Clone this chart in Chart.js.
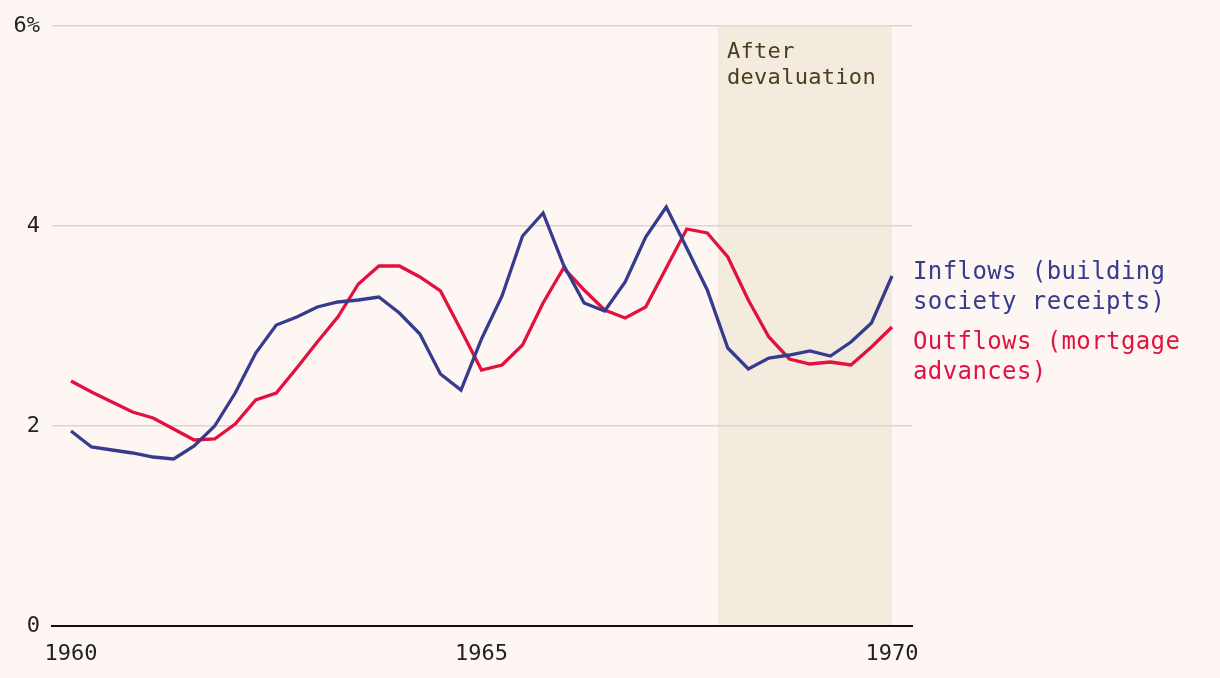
<!DOCTYPE html>
<html>
<head>
<meta charset="utf-8">
<script src="https://cdn.jsdelivr.net/npm/chart.js@4"></script>
<style>
  html, body { margin: 0; padding: 0; background: #fdf6f3; }
  #wrap { width: 1220px; height: 678px; position: relative; }
</style>
</head>
<body>
<div id="wrap"><canvas id="c" width="1220" height="678"></canvas></div>
<script>
// Quarterly observations, 1960 Q1 .. 1970 Q1
const years = [];
for (let i = 0; i <= 40; i++) years.push(1960 + i / 4);

const inflows = [1.95, 1.79, 1.76, 1.73, 1.69, 1.67, 1.80, 2.00, 2.33, 2.73,
                 3.01, 3.09, 3.19, 3.24, 3.26, 3.29, 3.13, 2.92, 2.52, 2.36,
                 2.87, 3.30, 3.90, 4.13, 3.61, 3.23, 3.15, 3.44, 3.89, 4.19,
                 3.78, 3.36, 2.78, 2.57, 2.68, 2.71, 2.75, 2.70, 2.84, 3.03,
                 3.50];
const outflows = [2.45, 2.34, 2.24, 2.14, 2.08, 1.97, 1.86, 1.87, 2.02, 2.26,
                  2.33, 2.58, 2.84, 3.09, 3.42, 3.60, 3.60, 3.49, 3.35, 2.96,
                  2.56, 2.61, 2.81, 3.23, 3.58, 3.36, 3.16, 3.08, 3.19, 3.58,
                  3.97, 3.93, 3.69, 3.26, 2.89, 2.67, 2.62, 2.64, 2.61, 2.79,
                  2.99];
const xTicks = [1960, 1965, 1970];
const yTicks = [0, 2, 4, 6];
const bandStart = 1967.88, bandEnd = 1970;

const BLUE = '#363b8d', RED = '#e2123f';
const MONO = '"DejaVu Sans Mono", "Liberation Mono", monospace';

const toPts = arr => arr.map((v, i) => ({ x: years[i], y: v }));

const overlay = {
  id: 'overlay',
  beforeDraw(chart) {
    const { ctx, scales: { x, y } } = chart;
    ctx.save();
    ctx.fillStyle = '#f4ebdf';
    const x0 = x.getPixelForValue(bandStart), x1 = x.getPixelForValue(bandEnd);
    ctx.fillRect(x0, y.getPixelForValue(6), x1 - x0, y.getPixelForValue(0) - y.getPixelForValue(6));
    ctx.restore();
  },
  afterDraw(chart) {
    const { ctx, scales: { x, y } } = chart;
    ctx.save();
    ctx.textBaseline = 'middle';
    ctx.textAlign = 'left';
    ctx.font = '22px ' + MONO;
    ctx.letterSpacing = '0.3px';
    ctx.fillStyle = '#4a3d1c';
    const bx = x.getPixelForValue(bandStart) + 9;
    ctx.fillText('After', bx, 52);
    ctx.fillText('devaluation', bx, 78);
    ctx.font = '24px ' + MONO;
    ctx.letterSpacing = '0.4px';
    const lx = x.getPixelForValue(1970) + 21;
    ctx.fillStyle = BLUE;
    const iy = y.getPixelForValue(3.53);
    ctx.fillText('Inflows (building', lx, iy);
    ctx.fillText('society receipts)', lx, iy + 30);
    ctx.fillStyle = RED;
    const oy = y.getPixelForValue(2.83);
    ctx.fillText('Outflows (mortgage', lx, oy);
    ctx.fillText('advances)', lx, oy + 30);
    ctx.restore();
  }
};

new Chart(document.getElementById('c'), {
  type: 'line',
  data: {
    datasets: [
      { label: 'Inflows (building society receipts)', data: toPts(inflows),
        borderColor: BLUE, borderWidth: 3.3, pointRadius: 0, tension: 0, fill: false },
      { label: 'Outflows (mortgage advances)', data: toPts(outflows),
        borderColor: RED, borderWidth: 3.3, pointRadius: 0, tension: 0, fill: false }
    ]
  },
  options: {
    responsive: false,
    animation: false,
    layout: { padding: { left: 0, right: 308, top: 26, bottom: 0 } },
    plugins: { legend: { display: false }, tooltip: { enabled: false } },
    scales: {
      x: {
        type: 'linear',
        min: 1960 - 19 / 82.1,
        max: 1970 + 20 / 82.1,
        afterBuildTicks(s) { s.ticks = xTicks.map(v => ({ value: v })); },
        afterFit(s) { s.height = 52; },
        grid: { display: false, drawTicks: false },
        border: { display: true, color: '#111', width: 2 },
        ticks: {
          padding: 15,
          color: '#222',
          font: { family: MONO, size: 22 },
          maxRotation: 0,
          callback: v => String(v)
        }
      },
      y: {
        min: 0, max: 6,
        afterBuildTicks(s) { s.ticks = yTicks.map(v => ({ value: v })); },
        afterFit(s) { s.width = 52; },
        grid: {
          drawTicks: false,
          color: ctx => ctx.tick && ctx.tick.value === 0 ? 'rgba(0,0,0,0)' : '#ddd4d0',
          lineWidth: 1.5
        },
        border: { display: false },
        ticks: {
          padding: 12,
          color: '#222',
          font: { family: MONO, size: 22 },
          callback: v => v === 6 ? '6%' : String(v)
        }
      }
    }
  },
  plugins: [overlay]
});
</script>
</body>
</html>
